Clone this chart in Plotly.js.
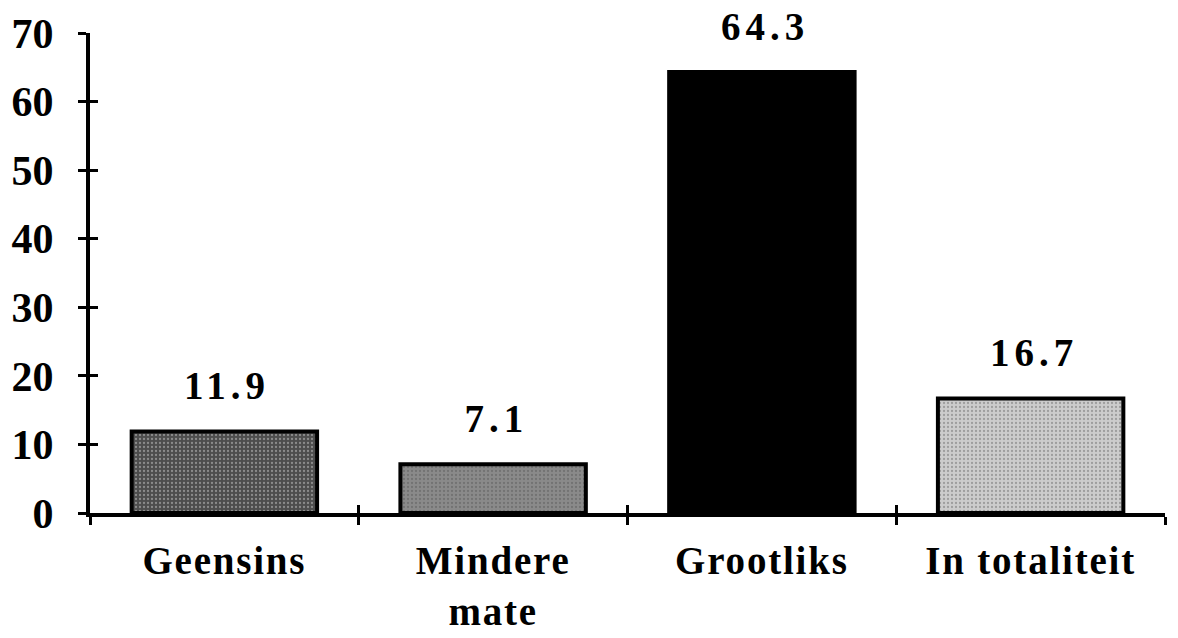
<!DOCTYPE html>
<html>
<head>
<meta charset="utf-8">
<script src="https://cdn.plot.ly/plotly-3.0.1.min.js"></script>
<style>
html,body{margin:0;padding:0;background:#fff;}
#chart{width:1178px;height:638px;}
#chart .annotation-text{letter-spacing:5px;}
#chart .xtick text{letter-spacing:1.8px;}
</style>
</head>
<body>
<div id="chart"></div>
<script>
const categories = ["Geensins", "Mindere mate", "Grootliks", "In totaliteit"];
const tickLabels = ["Geensins", "Mindere<br>mate", "Grootliks", "In totaliteit"];
const values = [11.9, 7.1, 64.3, 16.7];
const barColors = ["#4d4d4d", "#8a8a8a", "#000000", "#cccccc"];
const barPatterns = [".", ".", "", "."];
const yTicks = [0, 10, 20, 30, 40, 50, 60, 70];

const FONT = "Liberation Serif, Times New Roman, serif";

const bars = {
  type: "bar",
  x: categories,
  y: values,
  width: 0.69,
  marker: {
    color: barColors,
    line: {color: "#000", width: 4},
    pattern: {shape: barPatterns, fillmode: "overlay", fgcolor: "#ffffff", fgopacity: 0.35, size: 4, solidity: 0.25}
  },
  hoverinfo: "skip",
  showlegend: false
};

const dummy = {
  type: "scatter", mode: "none", x: categories, y: values,
  xaxis: "x2", yaxis: "y2", hoverinfo: "skip", showlegend: false
};

const annotations = categories.map((c, i) => ({
  x: c, y: values[i], xref: "x", yref: "y",
  text: values[i].toFixed(1),
  showarrow: false, yanchor: "bottom", yshift: 22, xshift: 3,
  font: {family: FONT, size: 39, color: "#000", weight: "bold"}
}));

const layout = {
  width: 1178, height: 638,
  margin: {l: 90, r: 13, t: 33, b: 125},
  paper_bgcolor: "#fff", plot_bgcolor: "#fff",
  showlegend: false,
  bargap: 0.31,
  xaxis: {
    type: "category", range: [-0.5, 3.5],
    tickvals: categories, ticktext: tickLabels,
    tickson: "boundaries", ticks: "outside", ticklen: 8, tickwidth: 3, tickcolor: "#000",
    showline: true, linecolor: "#000", linewidth: 4,
    showgrid: false, zeroline: false,
    tickfont: {family: FONT, size: 39, color: "#000", weight: "bold"},
    ticklabelstandoff: 10
  },
  xaxis2: {
    type: "category", range: [-0.5, 3.5], overlaying: "x",
    tickvals: categories, ticktext: categories.map(() => ""),
    tickson: "boundaries", ticks: "inside", ticklen: 8, tickwidth: 3, tickcolor: "#000",
    showline: false, showgrid: false, zeroline: false, showticklabels: false
  },
  yaxis: {
    range: [0, 70], tickvals: yTicks, ticktext: yTicks.map(String),
    ticks: "outside", ticklen: 8, tickwidth: 3, tickcolor: "#000",
    showline: true, linecolor: "#000", linewidth: 4,
    showgrid: false, zeroline: false,
    tickfont: {family: FONT, size: 42, color: "#000", weight: "bold"},
    ticklabelstandoff: 16
  },
  yaxis2: {
    range: [0, 70], overlaying: "y", tickvals: yTicks,
    ticks: "inside", ticklen: 8, tickwidth: 3, tickcolor: "#000",
    showline: false, showgrid: false, zeroline: false, showticklabels: false
  },
  annotations: annotations
};

Plotly.newPlot("chart", [bars, dummy], layout, {displayModeBar: false, staticPlot: true});
</script>
</body>
</html>
